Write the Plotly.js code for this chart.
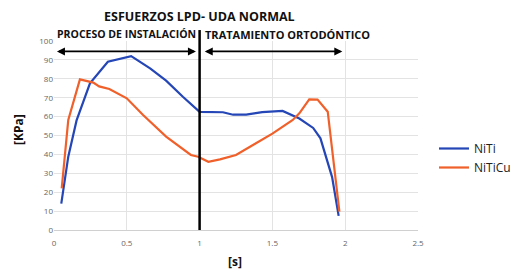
<!DOCTYPE html>
<html>
<head>
<meta charset="utf-8">
<script src="https://cdn.plot.ly/plotly-3.0.1.min.js"></script>
<style>html,body{margin:0;padding:0;background:#fff;}#chart{width:511px;height:272px;}</style>
</head>
<body>
<div id="chart"></div>
<script>
// NiTi series
const nitiX = [0.05, 0.098, 0.155, 0.247, 0.37, 0.43, 0.53, 0.66, 0.77, 0.885, 0.98, 1.0, 1.16, 1.23, 1.32, 1.43, 1.57, 1.685, 1.78, 1.83, 1.91, 1.955];
const nitiY = [14, 38.8, 58, 77.6, 89, 90, 92, 85.5, 79, 70.5, 64, 62.5, 62.3, 61, 61, 62.4, 63, 59, 54, 48.5, 28, 7.5];
// NiTiCu series
const niticuX = [0.053, 0.098, 0.178, 0.27, 0.31, 0.38, 0.5, 0.61, 0.77, 0.86, 0.94, 0.99, 1.06, 1.14, 1.25, 1.39, 1.5, 1.64, 1.685, 1.753, 1.81, 1.88, 1.96];
const niticuY = [22, 58.2, 79.7, 78, 76, 74.6, 69.7, 61, 49.4, 44, 39.7, 38.8, 36.1, 37.4, 39.7, 46, 51, 58.2, 61.7, 69.1, 69, 62.6, 9.7];
const seriesNames = ["NiTi", "NiTiCu"];
const xTicks = [0, 0.5, 1, 1.5, 2, 2.5];
const xTickText = ["0", "0.5", "1", "1.5", "2", "2.5"];
const yTicks = [0, 10, 20, 30, 40, 50, 60, 70, 80, 90, 100];
const chartTitle = "ESFUERZOS LPD- UDA NORMAL";
const phaseLabels = ["PROCESO DE INSTALACIÓN", "TRATAMIENTO ORTODÓNTICO"];
const xTitle = "[s]";
const yTitle = "[KPa]";
const dividerX = 1;
const arrowY = 94.5;
const arrowSpans = [[0.01, 0.975], [1.025, 1.98]];

const font = "Open Sans, Liberation Sans, sans-serif";
const traces = [
  {x: nitiX, y: nitiY, name: seriesNames[0], mode: "lines", line: {color: "#2446b6", width: 2.2}},
  {x: niticuX, y: niticuY, name: seriesNames[1], mode: "lines", line: {color: "#f0602a", width: 2.2}}
];

const annotations = [
  {xref: "paper", yref: "paper", x: 0.4, y: 1.127, text: "<b>" + chartTitle + "</b>", showarrow: false,
   xanchor: "center", yanchor: "middle", font: {family: font, size: 12.5, color: "#111"}},
  {xref: "x", yref: "paper", x: 0.005, y: 1.037, text: "<b>" + phaseLabels[0] + "</b>", showarrow: false,
   xanchor: "left", yanchor: "middle", font: {family: font, size: 10.5, color: "#111"}},
  {xref: "x", yref: "paper", x: 1.02, y: 1.037, text: "<b>" + phaseLabels[1] + "</b>", showarrow: false,
   xanchor: "left", yanchor: "middle", font: {family: font, size: 11, color: "#111"}},
  {xref: "paper", yref: "paper", x: (235 - 54) / 364, y: -(261 - 230) / 189, text: "<b>" + xTitle + "</b>", showarrow: false,
   xanchor: "center", yanchor: "middle", font: {family: font, size: 12, color: "#111"}},
  {xref: "paper", yref: "paper", x: -(54 - 18) / 364, y: (230 - 130) / 189, text: "<b>" + yTitle + "</b>", showarrow: false,
   textangle: -90, xanchor: "center", yanchor: "middle", font: {family: font, size: 12, color: "#111"}}
];
arrowSpans.forEach(function (s) {
  annotations.push({x: s[1], y: arrowY, ax: s[0], ay: arrowY, xref: "x", yref: "y", axref: "x", ayref: "y",
    text: "", showarrow: true, arrowhead: 2, arrowside: "end+start", arrowsize: 1, arrowwidth: 1.6, arrowcolor: "#000"});
});

const layout = {
  width: 511, height: 272,
  margin: {l: 54, r: 93, t: 41, b: 42},
  paper_bgcolor: "#fff", plot_bgcolor: "#fff",
  showlegend: true,
  legend: {xref: "container", yref: "container", x: 434 / 511, y: 1 - 158 / 272, xanchor: "left", yanchor: "middle",
           font: {family: font, size: 12, color: "#222"}, bgcolor: "rgba(0,0,0,0)", itemwidth: 30},
  xaxis: {range: [0, 2.5], tickvals: xTicks, ticktext: xTickText, showgrid: true, gridcolor: "#e3e3e3",
          zeroline: false, showline: true, linecolor: "#d0d0d0", ticks: "", automargin: false, ticklabelstandoff: 5,
          tickfont: {family: font, size: 8, color: "#666"}},
  yaxis: {range: [0, 100], tickvals: yTicks, showgrid: true, gridcolor: "#e3e3e3", zeroline: false,
          showline: false, ticks: "", automargin: false, tickfont: {family: font, size: 8, color: "#666"}},
  shapes: [
    {type: "line", xref: "x", yref: "paper", x0: dividerX, x1: dividerX, y0: 0, y1: 1.058,
     line: {color: "#000", width: 2.5}}
  ],
  annotations: annotations
};
Plotly.newPlot("chart", traces, layout, {displayModeBar: false, staticPlot: true});
</script>
</body>
</html>
